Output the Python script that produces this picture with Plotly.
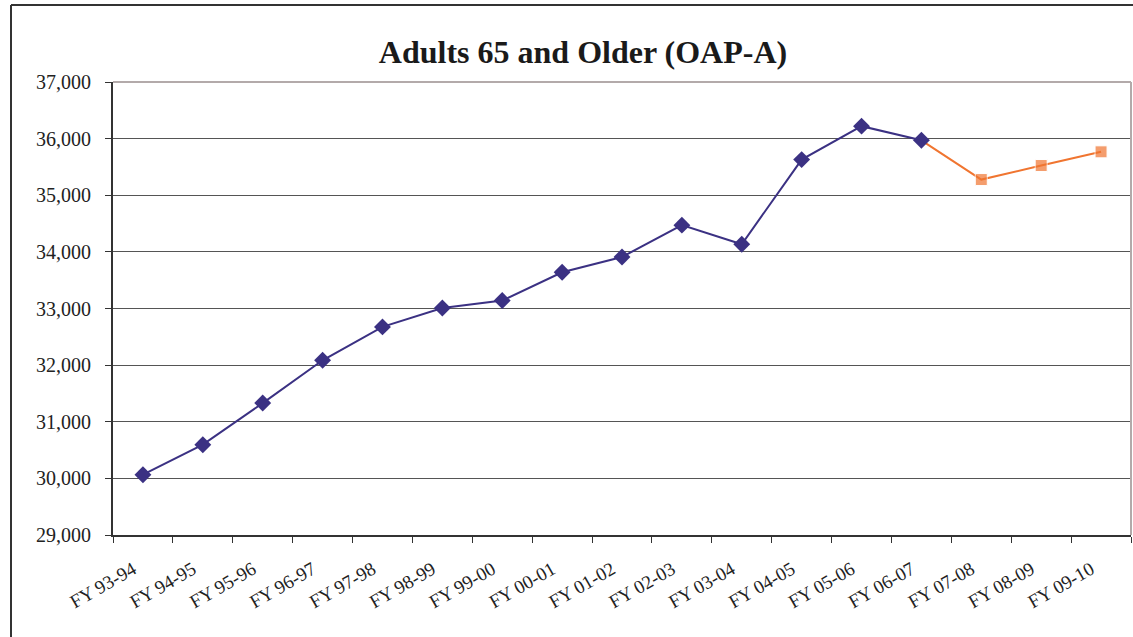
import plotly.graph_objects as go

# Fiscal-year categories
years = ["FY 93-94", "FY 94-95", "FY 95-96", "FY 96-97", "FY 97-98", "FY 98-99",
         "FY 99-00", "FY 00-01", "FY 01-02", "FY 02-03", "FY 03-04", "FY 04-05",
         "FY 05-06", "FY 06-07", "FY 07-08", "FY 08-09", "FY 09-10"]

# Actual caseload (through FY 06-07)
actual_years = years[:14]
actual = [30065, 30595, 31330, 32085, 32675, 33010, 33140, 33640, 33910,
          34472, 34135, 35630, 36220, 35970]

# Projected caseload (starting from last actual year)
proj_years = years[13:]
projected = [35970, 35277, 35525, 35767]

y_ticks = [29000, 30000, 31000, 32000, 33000, 34000, 35000, 36000, 37000]

SERIF = "Liberation Serif, Times New Roman, serif"
NAVY = "#3b3183"
ORANGE = "#f07530"

fig = go.Figure()

fig.add_trace(go.Scatter(
    x=proj_years, y=projected, mode="lines+markers",
    line=dict(color=ORANGE, width=2),
    marker=dict(symbol="square", size=[0, 12, 12, 12], color=ORANGE),
    hoverinfo="x+y", showlegend=False,
))

fig.add_trace(go.Scatter(
    x=actual_years, y=actual, mode="lines+markers",
    line=dict(color=NAVY, width=2),
    marker=dict(symbol="diamond", size=13, color=NAVY),
    hoverinfo="x+y", showlegend=False,
))

fig.update_layout(
    width=1133, height=637,
    margin=dict(l=113, r=2, t=82, b=102),
    paper_bgcolor="white", plot_bgcolor="white",
    font=dict(family=SERIF, color="#222222"),
    title=dict(
        text="<b>Adults 65 and Older (OAP-A)</b>",
        font=dict(family=SERIF, size=32, color="#1a1a1a"),
        x=(583 - 113) / 1018, xref="paper", xanchor="center",
        y=1 - 52 / 637, yref="container", yanchor="middle",
    ),
    xaxis=dict(
        type="category", categoryorder="array", categoryarray=years,
        range=[-0.5, len(years) - 0.5],
        tickmode="array", tickvals=years, ticktext=years,
        tickson="boundaries", ticks="outside", ticklen=6, tickcolor="#333333",
        tickangle=-30, tickfont=dict(family=SERIF, size=19, color="#222222"),
        ticklabelstandoff=14, ticklabelshift=-10,
        showgrid=False, showline=True, linecolor="#333333", linewidth=2,
        mirror=False, zeroline=False, fixedrange=True,
    ),
    yaxis=dict(
        range=[29000, 37000], tickmode="array", tickvals=y_ticks,
        tickformat=",d", ticks="outside", ticklen=6, tickcolor="#333333",
        ticklabelstandoff=10,
        tickfont=dict(family=SERIF, size=20, color="#222222"),
        showgrid=True, gridcolor="#555555", gridwidth=1,
        showline=True, linecolor="#333333", linewidth=2,
        zeroline=False, fixedrange=True,
    ),
    shapes=[
        # plot-area border on top and right
        dict(type="line", xref="paper", yref="paper", x0=0, x1=1, y0=1, y1=1,
             line=dict(color="#b3aaaa", width=2)),
        dict(type="line", xref="paper", yref="paper", x0=1, x1=1, y0=0, y1=1,
             line=dict(color="#b3aaaa", width=2)),
        # outer chart frame (top and left)
        dict(type="line", xref="paper", yref="paper",
             x0=(11 - 113) / 1018, x1=(1133 - 113) / 1018,
             y0=(535 - 5) / 453, y1=(535 - 5) / 453,
             line=dict(color="#333333", width=2)),
        dict(type="line", xref="paper", yref="paper",
             x0=(11 - 113) / 1018, x1=(11 - 113) / 1018,
             y0=(535 - 5) / 453, y1=(535 - 640) / 453,
             line=dict(color="#333333", width=2)),
    ],
)

fig.write_html("out.html")
